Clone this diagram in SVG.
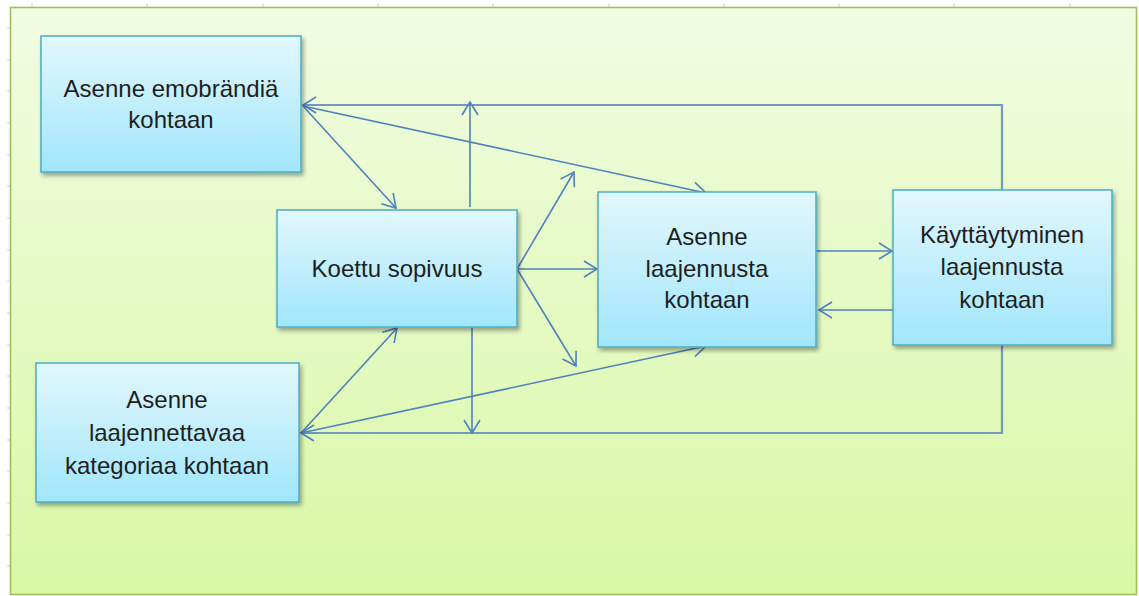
<svg xmlns="http://www.w3.org/2000/svg" width="1139" height="596" viewBox="0 0 1139 596">
  <style>
    .box { stroke: #4bacc6; stroke-width: 1.5; fill: url(#boxFill); filter: url(#shadow); }
    .lbl { font-family: "Liberation Sans", Arial, sans-serif; font-size: 24px; fill: #1e1e1e; text-anchor: middle; }
    .arr { fill: none; stroke: #4f81bd; stroke-width: 1.6; marker-end: url(#head); }
    .loop { fill: none; stroke: #7399c2; stroke-width: 2.2; stroke-linejoin: miter; }
    .tick { stroke: #d0d0d0; stroke-width: 1; }
  </style>
  <defs>
    <linearGradient id="bg" x1="0" y1="0" x2="0" y2="1">
      <stop offset="0" stop-color="#f1fce2"/>
      <stop offset="1" stop-color="#d9f8a6"/>
    </linearGradient>
    <linearGradient id="boxFill" x1="0" y1="0" x2="0" y2="1">
      <stop offset="0" stop-color="#e2f7fd"/>
      <stop offset="1" stop-color="#a1e6fc"/>
    </linearGradient>
    <filter id="shadow" x="-10%" y="-10%" width="125%" height="130%">
      <feDropShadow dx="2" dy="3" stdDeviation="2" flood-color="#000" flood-opacity="0.35"/>
    </filter>
    <marker id="head" markerUnits="userSpaceOnUse" viewBox="-15 -10 17 20" markerWidth="17" markerHeight="20" refX="0" refY="0" orient="auto">
      <path d="M-13,-8 L0,0 L-13,8" fill="none" stroke="#4f81bd" stroke-width="1.6"/>
    </marker>
  </defs>

  <!-- page background and sheet grid ticks -->
  <rect x="0" y="0" width="1139" height="596" fill="#ffffff"/>
  <g id="ticks">
    <line class="tick" x1="32" y1="3" x2="32" y2="7"/>
    <line class="tick" x1="147" y1="3" x2="147" y2="7"/>
    <line class="tick" x1="263" y1="3" x2="263" y2="7"/>
    <line class="tick" x1="378" y1="3" x2="378" y2="7"/>
    <line class="tick" x1="493" y1="3" x2="493" y2="7"/>
    <line class="tick" x1="609" y1="3" x2="609" y2="7"/>
    <line class="tick" x1="724" y1="3" x2="724" y2="7"/>
    <line class="tick" x1="839" y1="3" x2="839" y2="7"/>
    <line class="tick" x1="954" y1="3" x2="954" y2="7"/>
    <line class="tick" x1="1070" y1="3" x2="1070" y2="7"/>
    <line class="tick" x1="7" y1="28" x2="10" y2="28"/>
    <line class="tick" x1="7" y1="60" x2="10" y2="60"/>
    <line class="tick" x1="7" y1="91" x2="10" y2="91"/>
    <line class="tick" x1="7" y1="123" x2="10" y2="123"/>
    <line class="tick" x1="7" y1="155" x2="10" y2="155"/>
    <line class="tick" x1="7" y1="186" x2="10" y2="186"/>
    <line class="tick" x1="7" y1="218" x2="10" y2="218"/>
    <line class="tick" x1="7" y1="250" x2="10" y2="250"/>
    <line class="tick" x1="7" y1="281" x2="10" y2="281"/>
    <line class="tick" x1="7" y1="313" x2="10" y2="313"/>
    <line class="tick" x1="7" y1="345" x2="10" y2="345"/>
    <line class="tick" x1="7" y1="376" x2="10" y2="376"/>
    <line class="tick" x1="7" y1="408" x2="10" y2="408"/>
    <line class="tick" x1="7" y1="440" x2="10" y2="440"/>
    <line class="tick" x1="7" y1="471" x2="10" y2="471"/>
    <line class="tick" x1="7" y1="503" x2="10" y2="503"/>
    <line class="tick" x1="7" y1="535" x2="10" y2="535"/>
    <line class="tick" x1="7" y1="566" x2="10" y2="566"/>
  </g>

  <!-- green panel -->
  <rect id="panel" x="10.5" y="7.5" width="1126" height="587" fill="url(#bg)" stroke="#9dbf5e" stroke-width="1.6"/>

  <!-- connectors -->
  <g id="connectors">
    <polyline class="loop" points="1002,190 1002,105 318,105"/>
    <line class="arr" x1="318" y1="105" x2="303" y2="105"/>
    <polyline class="loop" points="1002,345 1002,433 318,433"/>
    <line class="arr" x1="318" y1="433" x2="301" y2="433"/>
    <line class="arr" x1="303" y1="106" x2="396" y2="208"/>
    <line class="arr" x1="303" y1="106" x2="706" y2="193"/>
    <line class="arr" x1="470" y1="207" x2="470" y2="102"/>
    <line class="arr" x1="472" y1="325" x2="472" y2="433"/>
    <line class="arr" x1="517" y1="269" x2="574" y2="172"/>
    <line class="arr" x1="517" y1="269" x2="597" y2="269"/>
    <line class="arr" x1="517" y1="269" x2="576" y2="366"/>
    <line class="arr" x1="301" y1="433" x2="397" y2="328"/>
    <line class="arr" x1="301" y1="433" x2="706" y2="346"/>
    <line class="arr" x1="816" y1="251" x2="892" y2="251"/>
    <line class="arr" x1="894" y1="310" x2="819" y2="310"/>
  </g>

  <g id="node-emobrandi">
    <rect class="box" x="41" y="36" width="260" height="136"/>
    <text class="lbl" x="171" y="97">Asenne emobrändiä</text>
    <text class="lbl" x="171" y="128">kohtaan</text>
  </g>

  <g id="node-sopivuus">
    <rect class="box" x="277" y="210" width="240" height="117"/>
    <text class="lbl" x="397" y="277">Koettu sopivuus</text>
  </g>

  <g id="node-asenne-laajennus">
    <rect class="box" x="598" y="192" width="218" height="155"/>
    <text class="lbl" x="707" y="245">Asenne</text>
    <text class="lbl" x="707" y="277">laajennusta</text>
    <text class="lbl" x="707" y="308">kohtaan</text>
  </g>

  <g id="node-kayttaytyminen">
    <rect class="box" x="893" y="190" width="219" height="155"/>
    <text class="lbl" x="1002" y="243">Käyttäytyminen</text>
    <text class="lbl" x="1002" y="275">laajennusta</text>
    <text class="lbl" x="1002" y="308">kohtaan</text>
  </g>

  <g id="node-kategoria">
    <rect class="box" x="36" y="363" width="263" height="139"/>
    <text class="lbl" x="167" y="408">Asenne</text>
    <text class="lbl" x="167" y="441">laajennettavaa</text>
    <text class="lbl" x="167" y="474">kategoriaa kohtaan</text>
  </g>
</svg>
